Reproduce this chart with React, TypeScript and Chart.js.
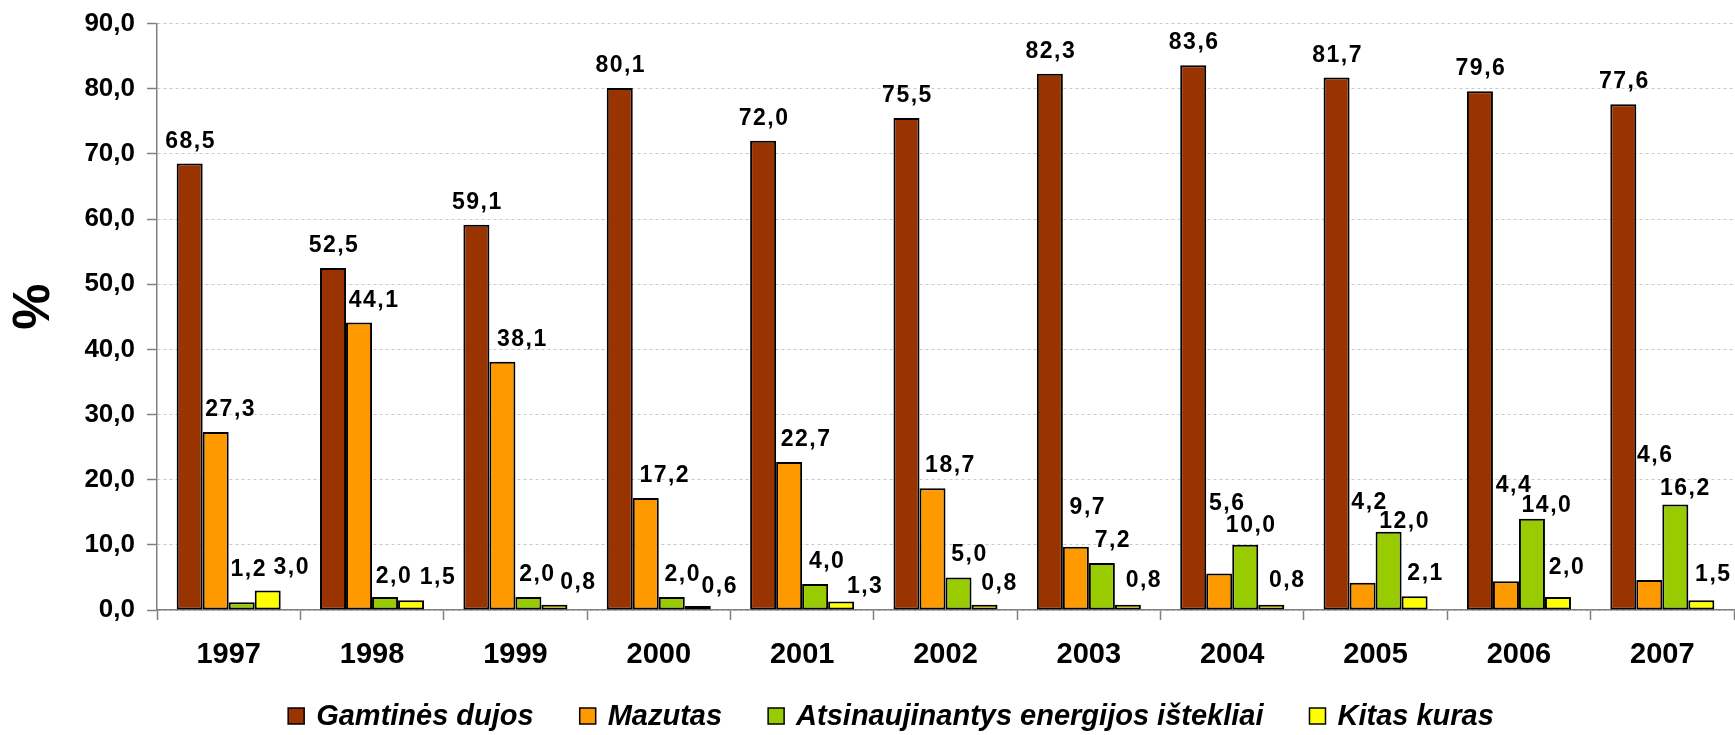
import React, { useEffect, useRef } from 'react';
import { Chart, registerables } from 'chart.js';

Chart.register(...registerables);

// ---- Data ----
const years = ['1997', '1998', '1999', '2000', '2001', '2002', '2003', '2004', '2005', '2006', '2007'];
const gamtinesDujos = [68.5, 52.5, 59.1, 80.1, 72.0, 75.5, 82.3, 83.6, 81.7, 79.6, 77.6];
const mazutas = [27.3, 44.1, 38.1, 17.2, 22.7, 18.7, 9.7, 5.6, 4.2, 4.4, 4.6];
const atsinaujinantys = [1.2, 2.0, 2.0, 2.0, 4.0, 5.0, 7.2, 10.0, 12.0, 14.0, 16.2];
const kitasKuras = [3.0, 1.5, 0.8, 0.6, 1.3, 0.8, 0.8, 0.8, 2.1, 2.0, 1.5];
const seriesNames = ['Gamtinės dujos', 'Mazutas', 'Atsinaujinantys energijos ištekliai', 'Kitas kuras'];
const yMin = 0;
const yMax = 90;
const yStep = 10;
const yTitle = '%';

// ---- Style ----
const seriesColors = ['#993300', '#FF9900', '#99CC00', '#FFFF00'];
const FONT = '"Liberation Sans", Arial, Helvetica, sans-serif';

// label nudges (dx, dy in px) relative to default "above bar" placement
const labelNudges: number[][][] = [
  [[0, 0], [0, 0], [0, 0], [0, 0], [0, 0], [0, 0], [0, 0], [0, 0], [0, 0], [0, 0], [0, 0]],
  [[14, 0], [14, 0], [19, 0], [18, 0], [16, 0], [17, 0], [11, -17], [7, -48], [6, -58], [7, -73], [5, -102]],
  [[6, -10], [8, 2], [8, 0], [10, 0], [11, 0], [10, 0], [10, 0], [5, 3], [15, 12], [14, 9], [9, 7]],
  [[23, 0], [26, 0], [23, 0], [21, 3], [23, 7], [14, 1], [15, -2], [15, -2], [10, 0], [8, -7], [11, -3]],
];

const fmt = (v: number) => v.toFixed(1).replace('.', ',');

const valueLabelPlugin = {
  id: 'valueLabels',
  afterDatasetsDraw(chart: any) {
    const ctx = chart.ctx as CanvasRenderingContext2D;
    ctx.save();
    ctx.font = `bold 23px ${FONT}`;
    ctx.fillStyle = '#000';
    ctx.textAlign = 'center';
    ctx.textBaseline = 'alphabetic';
    (ctx as any).letterSpacing = '1.5px';
    chart.data.datasets.forEach((ds: any, i: number) => {
      const meta = chart.getDatasetMeta(i);
      meta.data.forEach((el: any, j: number) => {
        const [dx, dy] = labelNudges[i][j];
        ctx.fillText(fmt(ds.data[j]), el.x + dx + 1, el.y - 16 + dy);
      });
    });
    ctx.restore();
  },
};

const decorPlugin = {
  id: 'decor',
  afterDraw(chart: any) {
    const ctx = chart.ctx as CanvasRenderingContext2D;
    const area = chart.chartArea;
    // y-axis title
    ctx.save();
    ctx.translate(35, (area.top + area.bottom) / 2 - 10);
    ctx.rotate(-Math.PI / 2);
    ctx.font = `bold 52px ${FONT}`;
    ctx.fillStyle = '#000';
    ctx.textAlign = 'center';
    ctx.textBaseline = 'middle';
    ctx.fillText(yTitle, 0, 0);
    ctx.restore();

    // legend
    ctx.save();
    ctx.font = `italic bold 29px ${FONT}`;
    const box = 16;
    const boxGap = 12;
    const itemGap = 46;
    const widths = seriesNames.map((n) => ctx.measureText(n).width);
    const total = widths.reduce((a, w) => a + box + boxGap + w, 0) + itemGap * (seriesNames.length - 1);
    let x = 891 - total / 2;
    const boxTop = 708;
    const baseline = 725;
    seriesNames.forEach((name, i) => {
      ctx.fillStyle = seriesColors[i];
      ctx.fillRect(x, boxTop, box, box);
      ctx.strokeStyle = '#000';
      ctx.lineWidth = 1.5;
      ctx.strokeRect(x, boxTop, box, box);
      ctx.fillStyle = '#000';
      ctx.textAlign = 'left';
      ctx.textBaseline = 'alphabetic';
      ctx.fillText(name, x + box + boxGap, baseline);
      x += box + boxGap + widths[i] + itemGap;
    });
    ctx.restore();
  },
};

export default function App() {
  const canvasRef = useRef<HTMLCanvasElement | null>(null);

  useEffect(() => {
    if (!canvasRef.current) return;
    const seriesData = [gamtinesDujos, mazutas, atsinaujinantys, kitasKuras];
    const chart = new Chart(canvasRef.current, {
      type: 'bar',
      data: {
        labels: years,
        datasets: seriesData.map((d, i) => ({
          label: seriesNames[i],
          data: d,
          backgroundColor: seriesColors[i],
          borderColor: '#000',
          borderWidth: 2,
          borderSkipped: false,
          categoryPercentage: 0.7257,
          barPercentage: 1,
        })),
      },
      options: {
        animation: false,
        responsive: true,
        maintainAspectRatio: false,
        layout: { padding: { top: 23.5, right: 1, bottom: 0, left: 0 } },
        plugins: {
          legend: { display: false },
          tooltip: { enabled: false },
          title: { display: false },
        },
        scales: {
          x: {
            grid: {
              display: true,
              drawOnChartArea: false,
              drawTicks: true,
              tickLength: 10,
              tickColor: '#808080',
              tickWidth: 1.5,
              offset: true,
            },
            border: { display: true, color: '#808080', width: 1.5 },
            ticks: {
              color: '#000',
              font: { family: FONT, size: 29, weight: 'bold' },
              padding: 18,
              maxRotation: 0,
              autoSkip: false,
            },
            afterFit: (s: any) => {
              s.height = 125;
            },
          },
          y: {
            min: yMin,
            max: yMax,
            ticks: {
              stepSize: yStep,
              callback: (v: any) => fmt(Number(v)),
              color: '#000',
              font: { family: FONT, size: 26, weight: 'bold' },
              padding: 12,
            },
            grid: {
              color: '#c8c8c8',
              lineWidth: 1,
              drawTicks: true,
              tickLength: 10,
              tickColor: '#808080',
              tickWidth: 1.5,
            },
            border: { display: true, color: '#808080', width: 1.5, dash: [3, 3] },
            afterFit: (s: any) => {
              s.width = 157;
              s.paddingTop = 0;
              s.paddingBottom = 0;
            },
          },
        },
      } as any,
      plugins: [valueLabelPlugin, decorPlugin],
    });
    return () => chart.destroy();
  }, []);

  return (
    <div style={{ position: 'absolute', left: 0, top: 0, width: 1735, height: 735, background: '#fff' }}>
      <canvas ref={canvasRef} />
    </div>
  );
}
